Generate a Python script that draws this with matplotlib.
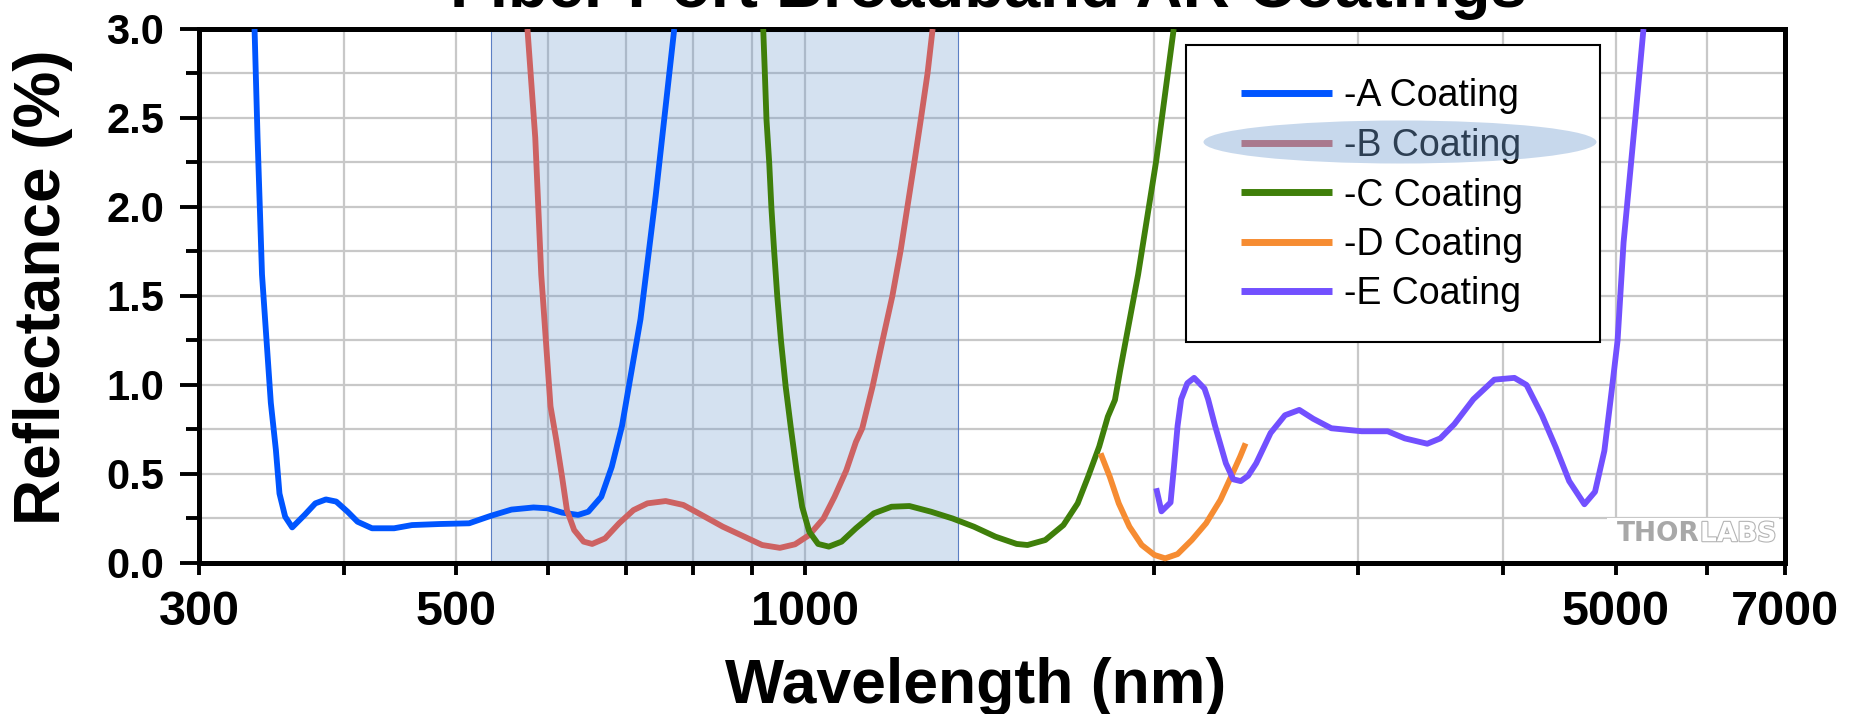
import matplotlib
matplotlib.use('Agg')
import matplotlib.pyplot as plt
import matplotlib.patheffects as pe
from matplotlib.patches import Ellipse, Rectangle
from matplotlib.ticker import FixedLocator, FixedFormatter, MultipleLocator, FormatStrFormatter, NullLocator

plt.rcParams['font.family'] = ['Liberation Sans', 'DejaVu Sans']
plt.rcParams['font.weight'] = 'bold'

# wavelength (nm) and reflectance (%) for each coating
a_wl = [335, 337, 340, 346, 349.5, 352, 356, 361, 370, 378, 386, 394, 403, 411, 423, 442, 458, 484,
        513, 535, 558, 583, 600, 617, 637, 650, 667, 681, 695, 721, 743, 771]
a_r = [3.0, 2.39, 1.62, 0.90, 0.635, 0.39, 0.26, 0.20, 0.27, 0.335, 0.357, 0.345, 0.288, 0.232, 0.195, 0.195,
       0.213, 0.219, 0.223, 0.264, 0.30, 0.312, 0.307, 0.283, 0.27, 0.288, 0.372, 0.54, 0.77, 1.37, 2.06, 3.0]

b_wl = [576, 585, 592, 603, 610, 617, 623, 632, 644, 655, 672, 691, 711, 731, 758, 785, 814, 849, 886,
        918, 951, 980, 1008, 1037, 1060, 1085, 1106, 1120, 1143, 1166, 1189, 1209, 1225, 1242, 1258,
        1275, 1288]
b_r = [3.0, 2.39, 1.62, 0.88, 0.69, 0.484, 0.297, 0.185, 0.12, 0.107, 0.138, 0.223, 0.297, 0.335, 0.348,
       0.326, 0.27, 0.204, 0.148, 0.101, 0.085, 0.105, 0.157, 0.25, 0.372, 0.52, 0.68, 0.757, 0.99, 1.25,
       1.5, 1.76, 2.0, 2.25, 2.49, 2.75, 3.0]

c_wl = [920, 923, 926, 931, 935, 940, 946, 953, 962, 972, 983, 994, 1008, 1026, 1048, 1075, 1106, 1146,
        1187, 1230, 1284, 1340, 1398, 1459, 1522, 1555, 1611, 1670, 1718, 1754, 1793, 1824, 1850, 1869,
        1937, 2008, 2079]
c_r = [3.0, 2.75, 2.49, 2.25, 2.0, 1.76, 1.5, 1.25, 0.99, 0.757, 0.52, 0.316, 0.176, 0.107, 0.092, 0.12,
       0.195, 0.279, 0.316, 0.32, 0.288, 0.25, 0.204, 0.148, 0.107, 0.101, 0.129, 0.213, 0.335, 0.485,
       0.654, 0.822, 0.916, 1.08, 1.62, 2.26, 3.0]

d_wl = [1798, 1831, 1864, 1904, 1951, 2001, 2044, 2095, 2155, 2217, 2281, 2330, 2372, 2398]
d_r = [0.616, 0.485, 0.335, 0.204, 0.101, 0.045, 0.026, 0.05, 0.129, 0.223, 0.354, 0.485, 0.597, 0.672]

e_wl = [2008, 2029, 2066, 2080, 2095, 2110, 2136, 2165, 2210, 2226, 2257, 2306, 2340, 2375, 2410, 2449,
        2520, 2593, 2668, 2743, 2843, 3020, 3180, 3290, 3440, 3530, 3630, 3770, 3930, 4090, 4190, 4320,
        4440, 4560, 4700, 4800, 4890, 4960, 5020, 5080, 5200, 5285]
e_r = [0.42, 0.29, 0.34, 0.54, 0.77, 0.92, 1.01, 1.04, 0.98, 0.92, 0.77, 0.56, 0.47, 0.46, 0.49, 0.56,
       0.73, 0.83, 0.86, 0.81, 0.757, 0.74, 0.74, 0.70, 0.67, 0.70, 0.78, 0.92, 1.03, 1.04, 1.00, 0.83,
       0.65, 0.46, 0.33, 0.40, 0.63, 0.96, 1.25, 1.80, 2.50, 3.0]

labels = ['-A Coating', '-B Coating', '-C Coating', '-D Coating', '-E Coating']
colors = ['#0055ff', '#cd6262', '#3f7f0a', '#f68c32', '#7250ff']

band = (536, 1355)

x_ticks = [300, 400, 500, 600, 700, 800, 900, 1000, 2000, 3000, 4000, 5000, 6000, 7000]
x_tick_labels = ['300', '', '500', '', '', '', '', '1000', '', '', '', '5000', '', '7000']

fig = plt.figure(figsize=(18.58, 7.14), dpi=100)
ax = fig.add_axes([0.1071, 0.2115, 0.8536, 0.7479])

ax.axvspan(band[0], band[1], ymin=0.004, ymax=0.996, facecolor=(0.40, 0.58, 0.80, 0.28),
           edgecolor=(0.30, 0.45, 0.75, 0.9), lw=0.8, zorder=1)

series = [(a_wl, a_r), (b_wl, b_r), (c_wl, c_r), (d_wl, d_r), (e_wl, e_r)]
for (wl, r), lab, col in zip(series, labels, colors):
    ax.plot(wl, r, color=col, lw=4.2, label=lab, solid_joinstyle='round', solid_capstyle='butt', zorder=3)

ax.set_xscale('log')
ax.set_xlim(300, 7000)
ax.set_ylim(0, 3.0)
ax.xaxis.set_major_locator(FixedLocator(x_ticks))
ax.xaxis.set_major_formatter(FixedFormatter(x_tick_labels))
ax.xaxis.set_minor_locator(NullLocator())
ax.yaxis.set_major_locator(MultipleLocator(0.5))
ax.yaxis.set_minor_locator(MultipleLocator(0.25))
ax.yaxis.set_major_formatter(FormatStrFormatter('%.1f'))

ax.set_axisbelow(True)
ax.grid(True, which='major', axis='x', color='#c8c8c8', lw=1.6)
ax.grid(True, which='both', axis='y', color='#c8c8c8', lw=1.6)

for s in ax.spines.values():
    s.set_linewidth(3.6)
    s.set_color('black')

ax.tick_params(axis='y', which='major', direction='out', length=14, width=2.8, pad=11, labelsize=30)
ax.tick_params(axis='y', which='minor', direction='out', length=9.7, width=2.8)
ax.tick_params(axis='x', which='major', direction='out', length=8.6, width=2.8, pad=11, labelsize=35)

# watermark in the lower right corner
ax.add_patch(Rectangle((0.888, 0.004), 0.108, 0.08, transform=ax.transAxes,
                       facecolor='white', edgecolor='none', zorder=1.5))
ax.text(0.9464, 0.054, 'THOR', transform=ax.transAxes, family='DejaVu Sans', weight='bold',
        color='#a8a8a8', fontsize=19, ha='right', va='center', zorder=2)
ax.text(0.9464, 0.054, 'LABS', transform=ax.transAxes, family='DejaVu Sans', weight='bold',
        color='white', fontsize=19, ha='left', va='center', zorder=2,
        path_effects=[pe.withStroke(linewidth=1.6, foreground='#b4b4b4')])

# legend box drawn separately so its size can be set directly
ax.add_patch(Rectangle((1186 / 1858, 1 - 342 / 714), 414 / 1858, 297 / 714, transform=fig.transFigure,
                       facecolor='white', edgecolor='black', lw=1.5, zorder=4))
leg = ax.legend(loc='center left', bbox_to_anchor=(1241 / 1858, 1 - 195.5 / 714), bbox_transform=fig.transFigure,
                prop={'size': 27, 'weight': 'normal'}, handlelength=2.43, handletextpad=0.32,
                labelspacing=0.36, borderpad=0, borderaxespad=0, frameon=False)
for h in leg.get_lines():
    h.set_linewidth(5)

# highlight on the -B entry
fig.add_artist(Ellipse((1400 / 1858, 1 - 142 / 714), 393 / 1858, 43 / 714, transform=fig.transFigure,
                       facecolor=(0.45, 0.62, 0.82), alpha=0.4, edgecolor='none', zorder=10))

fig.text(0.532, 1 - 7 / 714, 'Fiber Port Broadband AR Coatings', ha='center', va='baseline',
         fontsize=47, weight='bold')
fig.text(0.525, 11 / 714, 'Wavelength (nm)', ha='center', va='baseline', fontsize=45, weight='bold')
fig.text(43 / 1858, 1 - 287 / 714, 'Reflectance (%)', ha='center', va='center', rotation=90,
         fontsize=46, weight='bold')

fig.savefig('out.png', dpi=100)
